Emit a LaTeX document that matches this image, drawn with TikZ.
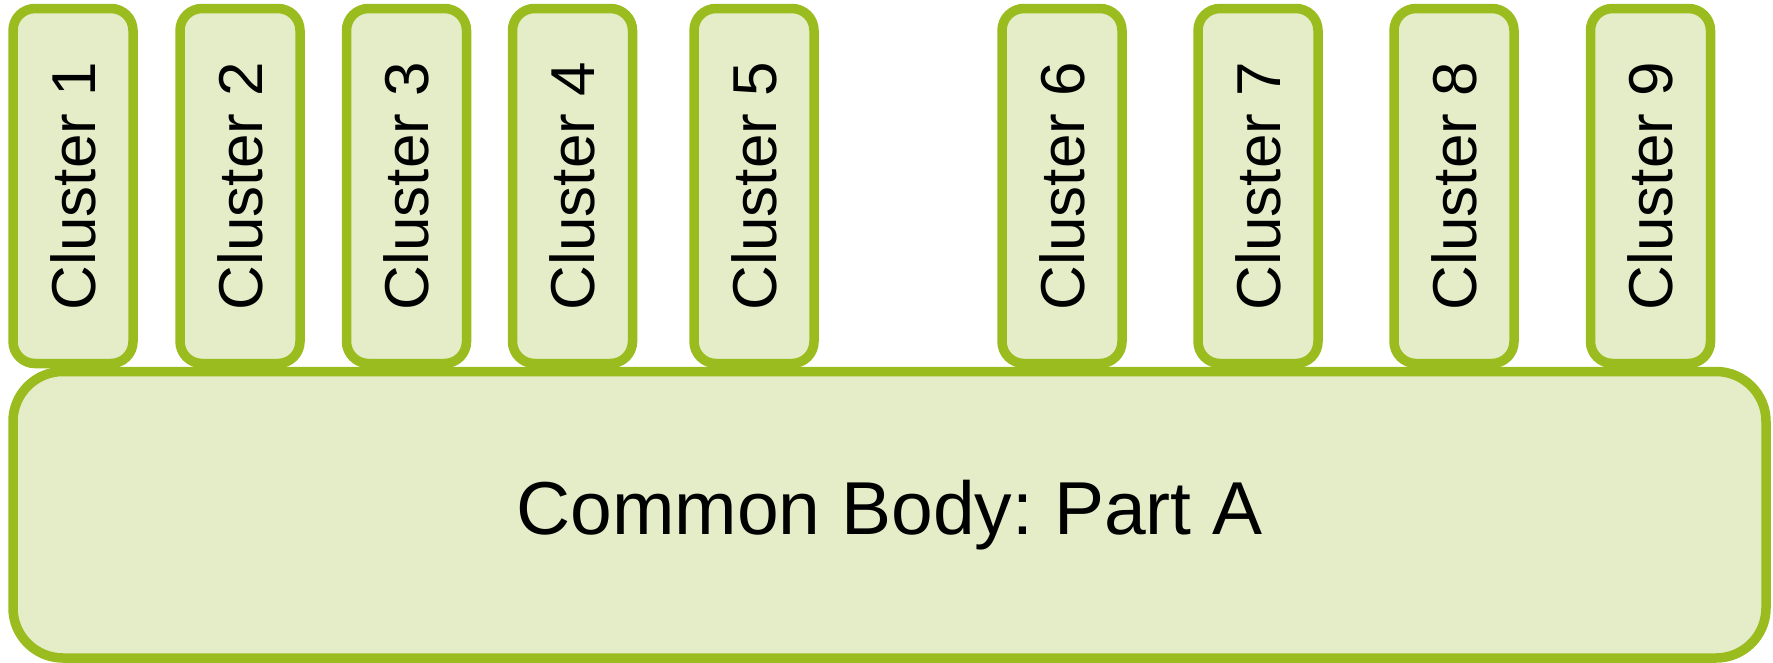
\documentclass[tikz,border=0pt]{standalone}
\usepackage{fontspec}
\setmainfont{Liberation Sans}
\frenchspacing
\definecolor{leafline}{HTML}{9BBC1F}
\definecolor{leaffill}{HTML}{E4EDC8}
\tikzset{
  cluster/.style={draw=leafline, fill=leaffill, line width=9.5pt,
    rounded corners=22pt, rotate=90, minimum width=355pt, minimum height=120pt,
    inner sep=0pt, font=\fontsize{62}{74}\selectfont},
  body/.style={draw=leafline, fill=leaffill, line width=9.5pt,
    rounded corners=50pt, minimum width=1753pt, minimum height=286.5pt,
    inner sep=0pt, font=\fontsize{75}{90}\selectfont}
}
\begin{document}
\begin{tikzpicture}[x=1pt, y=-1pt]
  \useasboundingbox (0,0) rectangle (1773,662);
  % shared base
  \node[body] (base) at (889.5,514.75) {Common Body: Part A};
  % clusters standing on the base
  \foreach \cx [count=\i] in {73,240,406.5,572.5,754,1062,1258,1454,1650.5}
    \node[cluster] (c\i) at (\cx,186) {Cluster \i};
\end{tikzpicture}
\end{document}
